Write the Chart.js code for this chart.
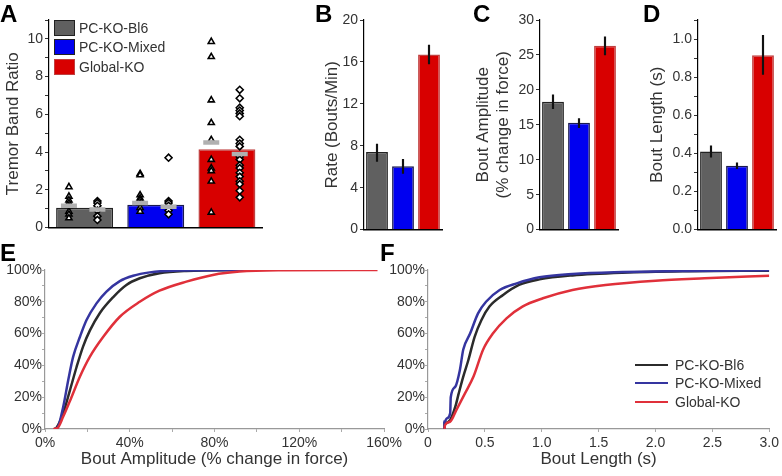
<!DOCTYPE html>
<html>
<head>
<meta charset="utf-8">
<script src="https://cdn.jsdelivr.net/npm/chart.js@4.4.1/dist/chart.umd.min.js"></script>
<style>
  body { margin: 0; background: #fff; font-family: "Liberation Sans", Arial, sans-serif; color: #333; }
  #wrap { position: relative; width: 782px; height: 476px; overflow: hidden; }
  .panel { position: absolute; }
  .letter { position: absolute; font-weight: bold; font-size: 24px; line-height: 24px; color: #000; }
  .leg { position: absolute; height: 16px; font-size: 14px; line-height: 16px; color: #333; white-space: nowrap; }
  .box { display: inline-block; width: 19px; height: 14px; border: 1px solid #222; vertical-align: top; margin-right: 4px; }
  .ln { display: inline-block; width: 33px; height: 0; border-top: 2.5px solid; vertical-align: middle; margin-right: 7px; margin-top: -2px; }
</style>
</head>
<body>
<div id="wrap">
  <canvas class="panel" id="chartA" width="275" height="240" style="left:0;top:0"></canvas>
  <canvas class="panel" id="chartB" width="135" height="240" style="left:310px;top:0"></canvas>
  <canvas class="panel" id="chartC" width="151" height="240" style="left:470px;top:0"></canvas>
  <canvas class="panel" id="chartD" width="142" height="240" style="left:640px;top:0"></canvas>
  <canvas class="panel" id="chartE" width="405" height="236" style="left:0;top:240px"></canvas>
  <canvas class="panel" id="chartF" width="398" height="236" style="left:384px;top:240px"></canvas>

  <div class="letter" style="left:0;top:2px">A</div>
  <div class="letter" style="left:315px;top:2px">B</div>
  <div class="letter" style="left:473px;top:2px">C</div>
  <div class="letter" style="left:643px;top:2px">D</div>
  <div class="letter" style="left:0;top:241px">E</div>
  <div class="letter" style="left:380px;top:241px">F</div>

  <div class="leg" style="left:54px;top:20px"><span class="box" style="background:#606060"></span>PC-KO-Bl6</div>
  <div class="leg" style="left:54px;top:39px"><span class="box" style="background:#0000f0"></span>PC-KO-Mixed</div>
  <div class="leg" style="left:54px;top:59px"><span class="box" style="background:#d80000;border-color:#c04040"></span>Global-KO</div>

  <div class="leg" style="left:635px;top:357px"><span class="ln" style="border-color:#2b2b2b"></span>PC-KO-Bl6</div>
  <div class="leg" style="left:635px;top:375px"><span class="ln" style="border-color:#3535a0"></span>PC-KO-Mixed</div>
  <div class="leg" style="left:635px;top:394px"><span class="ln" style="border-color:#e0303a"></span>Global-KO</div>
</div>

<script>
const groups = ['PC-KO-Bl6', 'PC-KO-Mixed', 'Global-KO'];
const barColors = ['#606060', '#0000f0', '#d80000'];
const barBorders = ['#222222', '#1a1a50', '#c04040'];

// A - tremor band ratio (bar = group mean, markers = subgroup means)
const tremorMeans = [1.05, 1.2, 4.15];
const tremorTriMeans = [1.15, 1.3, 4.5];
const tremorDiaMeans = [0.95, 1.1, 3.9];
const tremorTri = [
    [2.15, 1.65, 1.45, 1.3, 1.15, 0.85, 0.7, 0.5],
    [2.85, 2.78, 1.72, 1.55, 1.45, 1.3, 1.05, 0.85],
    [9.85, 9.05, 6.75, 5.55, 4.65, 3.6, 3.15, 3.0, 2.45, 0.8]
];
const tremorDia = [
    [1.4, 1.3, 1.15, 0.9, 0.6, 0.4],
    [3.7, 1.4, 1.3, 1.15, 0.9, 0.7],
    [7.3, 6.85, 6.35, 6.2, 6.05, 5.9, 4.65, 4.45, 4.3, 3.75, 3.6, 3.3, 3.15, 2.9, 2.7, 2.45, 2.3, 1.95, 1.6]
];

// B - bout rate
const rateMeans = [7.4, 6.05, 16.7];
const rateLo = [6.5, 5.35, 15.8];
const rateHi = [8.15, 6.7, 17.6];

// C - bout amplitude
const ampMeans = [18.3, 15.3, 26.3];
const ampLo = [17.3, 14.6, 25.0];
const ampHi = [19.3, 15.9, 27.6];

// D - bout length
const lenMeans = [0.41, 0.335, 0.915];
const lenLo = [0.38, 0.32, 0.815];
const lenHi = [0.44, 0.35, 1.02];

// E - cumulative distribution of bout amplitude (x %, y %)
const ampCdfBl6 = [[4.5, 0], [5.5, 1], [8.6, 10], [11.8, 24.5], [14.9, 39], [18, 52], [21.2, 62], [25.9, 73], [32.2, 83], [38.4, 90.6], [44.7, 94.8], [54, 98], [66.7, 99.4], [95, 100]];
const ampCdfMixed = [[4.5, 0], [6, 1], [8.6, 14], [11, 31], [13.3, 45.5], [16.5, 58], [19.6, 68.5], [24.3, 79], [29, 86.4], [35.3, 93], [41.6, 96.4], [49.4, 98.5], [60.4, 99.6], [97.3, 100]];
const ampCdfGlobal = [[3.9, 0], [5.8, 0.5], [8.6, 7.8], [12.5, 20], [16.5, 33], [21.2, 45.5], [27.5, 58], [35.3, 70.6], [44.7, 80], [54, 87], [66.7, 92.7], [79.2, 96.9], [91.8, 99], [112, 99.8], [156.9, 100]];

// F - cumulative distribution of bout length (x s, y %)
const lenCdfBl6 = [[0.145, 0], [0.145, 3.6], [0.195, 5.7], [0.24, 14], [0.27, 22.4], [0.31, 33], [0.355, 43.4], [0.41, 58], [0.47, 68.6], [0.54, 77], [0.66, 84.3], [0.8, 90.6], [0.98, 94.1], [1.27, 96.6], [1.71, 98.3], [2.29, 99.2], [3.0, 99.6]];
const lenCdfMixed = [[0.145, 0], [0.145, 4.6], [0.166, 6.7], [0.195, 9.9], [0.2, 20], [0.24, 26.6], [0.28, 37], [0.31, 50], [0.37, 60], [0.44, 72.7], [0.51, 80], [0.63, 87.4], [0.78, 91.6], [0.98, 95.4], [1.27, 97.5], [1.71, 98.7], [2.29, 99.4], [3.0, 99.8]];
const lenCdfGlobal = [[0.145, 0], [0.15, 2.5], [0.195, 4.6], [0.25, 12], [0.325, 22.4], [0.4, 33], [0.485, 50], [0.57, 60], [0.69, 69.6], [0.83, 77], [1.01, 82.2], [1.27, 87.4], [1.56, 90.6], [2.0, 93.3], [2.43, 94.8], [3.0, 96.4]];

Chart.defaults.font.family = '"Liberation Sans", Arial, sans-serif';
Chart.defaults.color = '#333';
Chart.defaults.animation = false;
Chart.defaults.events = [];
Chart.defaults.plugins.legend.display = false;
Chart.defaults.plugins.tooltip.enabled = false;

const TRI_OFFSET = -0.22;
const DIA_OFFSET = 0.18;

function toPoints(pairs) {
    return pairs.map(p => ({ x: p[0], y: p[1] }));
}

function barXScale(height) {
    return {
        type: 'category',
        offset: true,
        grid: { display: false },
        border: { color: '#000', width: 1.5 },
        ticks: { display: false },
        afterFit: s => { s.height = height; }
    };
}

function barYScale(max, step, isLabel, fmt, title, width, titlePad) {
    return {
        min: 0,
        max: max,
        ticks: {
            stepSize: step,
            autoSkip: false,
            padding: 2,
            font: { size: 14 },
            callback: v => isLabel(v) ? fmt(v) : ''
        },
        grid: { drawOnChartArea: false, tickLength: 4, color: '#333' },
        border: { color: '#000', width: 1.2 },
        title: { display: true, text: title, font: { size: 17 }, padding: { top: titlePad } },
        afterFit: s => { s.width = width; }
    };
}

function renderTremorChart() {
    const triPts = [], diaPts = [], meanPts = [];
    tremorTri.forEach((vals, i) => vals.forEach(v => triPts.push({ x: i + TRI_OFFSET, y: v })));
    tremorDia.forEach((vals, i) => vals.forEach(v => diaPts.push({ x: i + DIA_OFFSET, y: v })));
    tremorTriMeans.forEach((v, i) => meanPts.push({ x: i + TRI_OFFSET, y: v }));
    tremorDiaMeans.forEach((v, i) => meanPts.push({ x: i + DIA_OFFSET, y: v }));

    new Chart(document.getElementById('chartA'), {
        type: 'bar',
        data: {
            labels: groups,
            datasets: [
                {
                    type: 'scatter', xAxisID: 'xs', data: meanPts,
                    pointStyle: 'line', pointRadius: 8, pointBorderWidth: 4.5, pointBorderColor: '#b0b0b0'
                },
                {
                    type: 'scatter', xAxisID: 'xs', data: triPts,
                    pointStyle: 'triangle', pointRadius: 3.5, pointBorderWidth: 1.6,
                    pointBorderColor: '#000', pointBackgroundColor: '#fff'
                },
                {
                    type: 'scatter', xAxisID: 'xs', data: diaPts,
                    pointStyle: 'rectRot', pointRadius: 3.5, pointBorderWidth: 1.6,
                    pointBorderColor: '#000', pointBackgroundColor: '#fff'
                },
                {
                    type: 'bar',
                    xAxisID: 'x',
                    data: tremorMeans,
                    backgroundColor: barColors,
                    borderColor: barBorders,
                    borderWidth: 1.5,
                    barPercentage: 0.8,
                    categoryPercentage: 1,
                    grouped: false
                }
            ]
        },
        options: {
            responsive: false,
            layout: { padding: { top: 20, right: 0 } },
            scales: {
                x: barXScale(12),
                xs: { type: 'linear', position: 'bottom', min: -0.5, max: 2.5, offset: false, display: false },
                y: barYScale(11, 1, v => v % 2 === 0, v => v, 'Tremor Band Ratio', 49, 3)
            }
        }
    });
}

function renderErrorBarChart(id, means, lo, hi, yScale, rightPad) {
    new Chart(document.getElementById(id), {
        type: 'bar',
        data: {
            labels: groups,
            datasets: [
                {
                    data: lo.map((v, i) => [v, hi[i]]),
                    backgroundColor: '#111',
                    barThickness: 1.5,
                    grouped: false
                },
                {
                    data: means,
                    backgroundColor: barColors,
                    borderColor: barBorders,
                    borderWidth: 1.5,
                    barPercentage: 0.84,
                    categoryPercentage: 1,
                    grouped: false
                }
            ]
        },
        options: {
            responsive: false,
            layout: { padding: { top: 20, right: rightPad } },
            scales: {
                x: barXScale(10),
                y: yScale
            }
        }
    });
}

function cdfLine(pairs, color, order) {
    return {
        data: toPoints(pairs),
        borderColor: color,
        borderWidth: 2.5,
        pointRadius: 0,
        showLine: true,
        fill: false,
        cubicInterpolationMode: 'monotone',
        order: order
    };
}

function cdfYScale(width) {
    return {
        min: 0,
        max: 100,
        ticks: {
            stepSize: 10,
            autoSkip: false,
            padding: 0,
            font: { size: 14 },
            callback: v => v % 20 === 0 ? v + '%' : ''
        },
        grid: { drawOnChartArea: false, tickLength: 3, color: '#aaa' },
        border: { color: '#999', width: 1.2 },
        afterFit: s => { s.width = width; }
    };
}

function cdfXScale(max, step, isLabel, fmt, title) {
    return {
        type: 'linear',
        min: 0,
        max: max,
        ticks: {
            stepSize: step,
            autoSkip: false,
            maxRotation: 0,
            padding: 3,
            font: { size: 14 },
            callback: v => isLabel(v) ? fmt(v) : ''
        },
        grid: { drawOnChartArea: false, tickLength: 3, color: '#aaa' },
        border: { color: '#999', width: 1.2 },
        title: { display: true, text: title, font: { size: 17 }, padding: { top: 0, bottom: 6 } },
        afterFit: s => { s.height = 47; }
    };
}

function renderCdfChart(id, series, xScale, yWidth, rightPad) {
    new Chart(document.getElementById(id), {
        type: 'scatter',
        data: {
            datasets: [
                cdfLine(series[2], '#e0303a', 0),
                cdfLine(series[1], '#3535a0', 1),
                cdfLine(series[0], '#2b2b2b', 2)
            ]
        },
        options: {
            responsive: false,
            layout: { padding: { top: 30, right: rightPad } },
            scales: {
                x: xScale,
                y: cdfYScale(yWidth)
            }
        }
    });
}

renderTremorChart();

renderErrorBarChart('chartB', rateMeans, rateLo, rateHi,
    barYScale(20, 4, () => true, v => v, 'Rate (Bouts/Min)', 54, 12), 3);

renderErrorBarChart('chartC', ampMeans, ampLo, ampHi,
    barYScale(30, 5, () => true, v => v, ['Bout Amplitude', '(% change in force)'], 70, 3), 3);

renderErrorBarChart('chartD', lenMeans, lenLo, lenHi,
    barYScale(1.1, 0.1, v => Math.round(v * 10) % 2 === 0, v => v.toFixed(1), 'Bout Length (s)', 58, 7), 6);

renderCdfChart('chartE', [ampCdfBl6, ampCdfMixed, ampCdfGlobal],
    cdfXScale(160, 20, v => v % 40 === 0, v => v + '%', 'Bout Amplitude (% change in force)'), 45, 20);

renderCdfChart('chartF', [lenCdfBl6, lenCdfMixed, lenCdfGlobal],
    cdfXScale(3, 0.5, () => true, v => v === 0 ? '0' : v.toFixed(1), 'Bout Length (s)'), 44, 10);
</script>
</body>
</html>
